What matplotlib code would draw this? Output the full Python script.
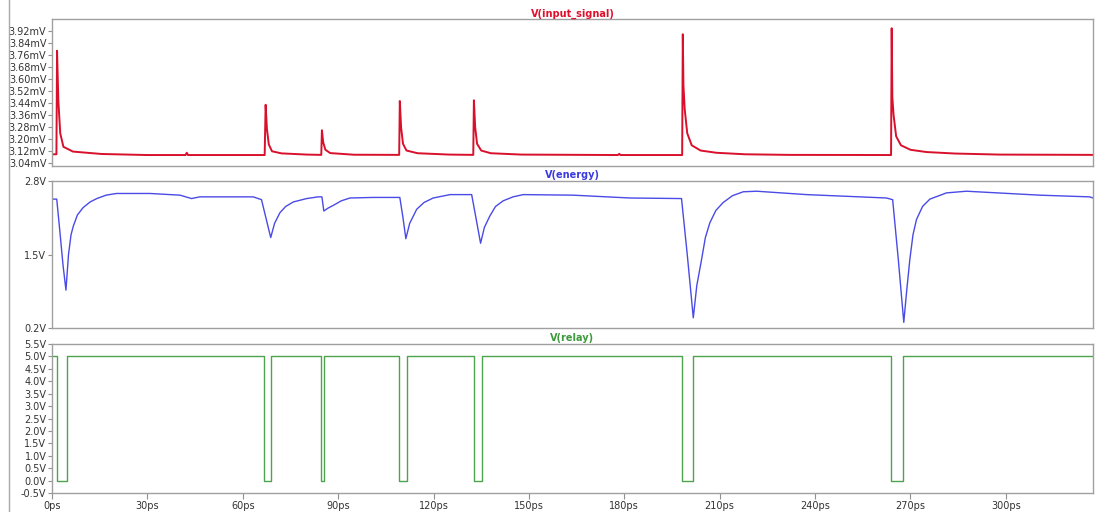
import numpy as np
import matplotlib
matplotlib.use("Agg")
import matplotlib.pyplot as plt
from matplotlib.lines import Line2D

# time axis in ps
t_max = 327.4

# V(input_signal), mV
sig_t = [0, 1.4, 1.6, 2.0, 2.6, 3.6, 6.6, 15.6, 30, 42.0, 42.4, 42.8, 60,
         66.9, 67.2, 67.6, 68.2, 69.2, 72.2, 80.2,
         84.7, 84.9, 85.3, 86.0, 87.5, 95.0,
         109.2, 109.4, 109.8, 110.4, 111.5, 115.0, 125.0,
         132.5, 132.7, 133.1, 133.7, 135.0, 138.0, 147.7,
         178.0, 178.4, 178.8,
         198.2, 198.4, 198.6, 199.0, 199.8, 201.2, 204.0, 209.0, 218.0, 232.0,
         263.9, 264.1, 264.3, 264.7, 265.5, 267.0, 270.0, 275.0, 284.0, 298.0, 327.4]
sig_v = [3.10, 3.10, 3.79, 3.46, 3.24, 3.15, 3.118, 3.102, 3.095, 3.095, 3.11, 3.095, 3.095,
         3.095, 3.43, 3.27, 3.165, 3.12, 3.106, 3.098,
         3.096, 3.26, 3.18, 3.13, 3.108, 3.097,
         3.096, 3.455, 3.28, 3.17, 3.125, 3.107, 3.098,
         3.096, 3.46, 3.28, 3.17, 3.125, 3.107, 3.098,
         3.095, 3.103, 3.095,
         3.095, 3.90, 3.56, 3.40, 3.24, 3.16, 3.125, 3.11, 3.10, 3.096,
         3.095, 3.94, 3.48, 3.36, 3.22, 3.16, 3.13, 3.115, 3.105, 3.098, 3.096]

# V(energy), V
en_t = [0, 1.5, 2.5, 3.5, 4.4, 5.2, 6.0, 6.7, 8.0, 9.8, 12.0, 14.1, 17.0, 20.3,
        30.8, 40.3, 43.9, 46.5, 63.3, 65.9, 67.5,
        68.8, 70.0, 71.7, 73.5, 75.9, 80.1, 83.7, 84.9,
        85.5, 86.8, 88.5, 91.0, 93.7, 101.0, 109.4, 110.4,
        111.3, 112.5, 114.7, 117.0, 119.9, 125.2, 132.0, 133.5,
        134.8, 136.0, 137.7, 139.5, 141.9, 145.0, 148.2, 163.9,
        181.8, 198.0, 199.8, 201.7, 202.8, 204.3, 205.5, 206.9, 208.8, 211.1, 214.0, 217.4,
        221.6, 237.3, 262.5, 264.4, 266.2,
        267.9, 268.8, 269.8, 270.8, 271.9, 273.8, 276.1, 281.3, 287.6, 310.7, 326.4, 327.4]
en_v = [2.48, 2.48, 1.90, 1.30, 0.87, 1.50, 1.85, 2.00, 2.20, 2.33, 2.43, 2.49, 2.55, 2.58,
        2.58, 2.55, 2.49, 2.52, 2.52, 2.47, 2.10,
        1.80, 2.05, 2.24, 2.35, 2.43, 2.49, 2.52, 2.52,
        2.27, 2.32, 2.37, 2.45, 2.50, 2.51, 2.51, 2.15,
        1.78, 2.05, 2.30, 2.42, 2.50, 2.56, 2.56, 2.10,
        1.70, 1.98, 2.18, 2.35, 2.45, 2.52, 2.56, 2.55,
        2.50, 2.49, 1.50, 0.38, 0.95, 1.41, 1.80, 2.06, 2.28, 2.42, 2.54, 2.61,
        2.62, 2.56, 2.50, 2.47, 1.40,
        0.30, 0.85, 1.41, 1.85, 2.12, 2.35, 2.48, 2.59, 2.62, 2.55, 2.52, 2.50]

# V(relay), V  (step edges)
relay_t = [0, 1.6, 4.7, 66.7, 68.9, 84.6, 85.5, 109.1, 111.6, 132.7, 135.2,
           198.1, 201.6, 263.8, 267.6, 327.4]
relay_v = [5, 0, 5, 0, 5, 0, 5, 0, 5, 0, 5, 0, 5, 0, 5, 5]

sig_ticks = [3.92, 3.84, 3.76, 3.68, 3.60, 3.52, 3.44, 3.36, 3.28, 3.20, 3.12, 3.04]
en_ticks = [2.8, 1.5, 0.2]
relay_ticks = [5.5, 5.0, 4.5, 4.0, 3.5, 3.0, 2.5, 2.0, 1.5, 1.0, 0.5, 0.0, -0.5]
x_ticks = [0, 30, 60, 90, 120, 150, 180, 210, 240, 270, 300]

fig = plt.figure(figsize=(11.01, 5.12), dpi=100)
left, width = 0.0472, 0.9455
ax1 = fig.add_axes([left, 0.6764, width, 0.286])
ax2 = fig.add_axes([left, 0.3594, width, 0.287])
ax3 = fig.add_axes([left, 0.0371, width, 0.291])

ax1.plot(sig_t, sig_v, color="#d8102c", lw=1.4)
ax2.plot(en_t, en_v, color="#4a4ae6", lw=1.0)
ax3.plot(relay_t, relay_v, color="#4ea44e", lw=1.0, drawstyle="steps-post")

ax1.set_ylim(3.024, 4.0)
ax1.set_yticks(sig_ticks)
ax1.set_yticklabels([f"{v:.2f}mV" for v in sig_ticks])
ax2.set_ylim(0.2, 2.8)
ax2.set_yticks(en_ticks)
ax2.set_yticklabels([f"{v:.1f}V" for v in en_ticks])
ax3.set_ylim(-0.5, 5.5)
ax3.set_yticks(relay_ticks)
ax3.set_yticklabels([f"{v:.1f}V" for v in relay_ticks])

titles = [("V(input_signal)", "#e0102c"), ("V(energy)", "#3a3ae0"), ("V(relay)", "#3c9a3c")]
for ax, (ttl, col) in zip([ax1, ax2, ax3], titles):
    ax.set_xlim(0, t_max)
    ax.set_xticks(x_ticks)
    ax.set_title(ttl, color=col, fontsize=7, fontweight="bold", pad=2)
    for s in ax.spines.values():
        s.set_color("#a0a0a0")
        s.set_linewidth(1.0)
    ax.tick_params(axis="y", length=3, width=0.8, color="#909090",
                   labelsize=7, labelcolor="#333333", pad=1)
    ax.tick_params(axis="x", length=4, width=0.8, color="#909090",
                   labelsize=7, labelcolor="#333333", pad=2)

ax1.tick_params(axis="x", labelbottom=False, length=0)
ax2.tick_params(axis="x", labelbottom=False, length=0)
ax3.set_xticklabels([f"{v}ps" for v in x_ticks])

fig.add_artist(Line2D([0.0085, 0.0085], [0, 1], color="#a8a8a8", lw=1.0))

fig.savefig("out.png", dpi=100)
